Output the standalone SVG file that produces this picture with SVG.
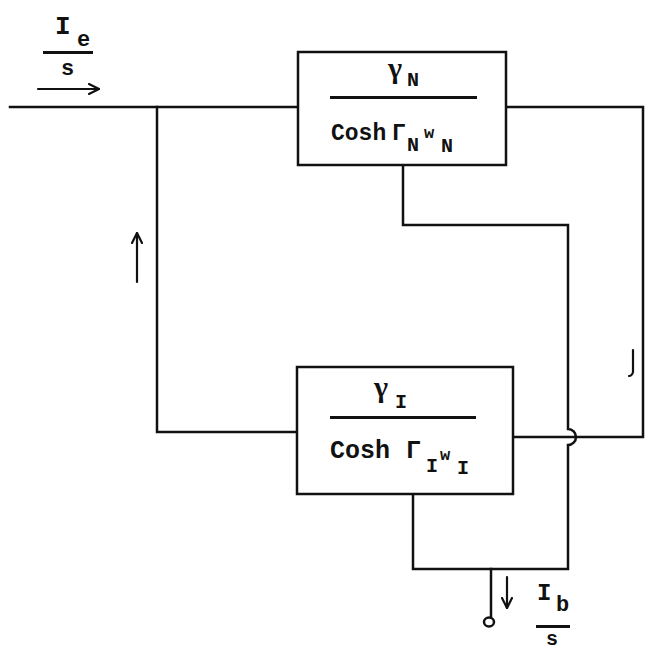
<svg xmlns="http://www.w3.org/2000/svg" width="660" height="653" viewBox="0 0 660 653">
<defs>
<style>
.w{fill:none;stroke:#111;stroke-width:2.5;stroke-linecap:square}
.box{fill:#fff;stroke:#111;stroke-width:2.5}
.bar{fill:#111}
.t{font-family:"Liberation Mono","DejaVu Sans Mono",monospace;font-weight:bold;fill:#111}
.g{font-family:"Liberation Serif","DejaVu Serif",serif;font-weight:bold;fill:#111}
.a{fill:none;stroke:#111;stroke-width:2.2;stroke-linecap:round;stroke-linejoin:round}
</style>
<marker id="ah" viewBox="0 0 12 12" refX="11" refY="6" markerWidth="12" markerHeight="12" markerUnits="userSpaceOnUse" orient="auto">
<path d="M1,1 L11,6 L1,11" class="a"/>
</marker>
</defs>
<rect width="660" height="653" fill="#fff"/>
<g id="connectors">
<path class="w" d="M10,107 H298"/>
<path class="w" d="M157,107 V432 H297"/>
<path class="w" d="M506,107 H643 V437 H513"/>
<path class="w" d="M403,165 V225 H568 V429 A8,8 0 0 1 568,445 V569 H413 V494"/>
<path class="w" d="M491,569 V617"/>
<ellipse cx="489" cy="622" rx="5" ry="4.5" fill="none" stroke="#111" stroke-width="2.5"/>
<path class="a" d="M38,89 H99" marker-end="url(#ah)"/>
<path class="a" d="M137,282 V233" marker-end="url(#ah)"/>
<path class="a" d="M507,577 V608" marker-end="url(#ah)"/>
<path class="a" d="M633,350 V372 Q632,376 629,376" stroke-width="1.5"/>
</g>
<g id="label-ie">
<text class="t" x="55" y="34" font-size="26">I</text>
<text class="t" x="77" y="46" font-size="22">e</text>
<rect class="bar" x="43" y="51" width="50" height="3"/>
<text class="t" x="61" y="75" font-size="22">s</text>
</g>
<g id="node-N">
<rect class="box" x="298" y="52" width="208" height="113"/>
<text class="g" x="388" y="78" font-size="30">γ</text>
<text class="t" x="407" y="86" font-size="20">N</text>
<rect class="bar" x="330" y="96" width="147" height="3"/>
<text class="t" x="331" y="140" font-size="23">Cosh</text>
<text class="t" x="392" y="140" font-size="23">Γ</text>
<text class="t" x="407" y="151" font-size="20">N</text>
<text class="t" x="424" y="138" font-size="17">w</text>
<text class="t" x="441" y="152" font-size="20">N</text>
</g>
<g id="node-I">
<rect class="box" x="297" y="367" width="216" height="127"/>
<text class="g" x="374" y="397" font-size="30">γ</text>
<text class="t" x="395" y="408" font-size="20">I</text>
<rect class="bar" x="330" y="416" width="146" height="3"/>
<text class="t" x="330" y="458" font-size="25">Cosh</text>
<text class="t" x="406" y="458" font-size="25">Γ</text>
<text class="t" x="426" y="472" font-size="20">I</text>
<text class="t" x="440" y="460" font-size="17">w</text>
<text class="t" x="457" y="474" font-size="20">I</text>
</g>
<g id="label-ib">
<text class="t" x="537" y="600" font-size="24">I</text>
<text class="t" x="556" y="611" font-size="22">b</text>
<rect class="bar" x="536" y="625" width="34" height="3"/>
<text class="t" x="546" y="645" font-size="20">s</text>
</g>
</svg>
